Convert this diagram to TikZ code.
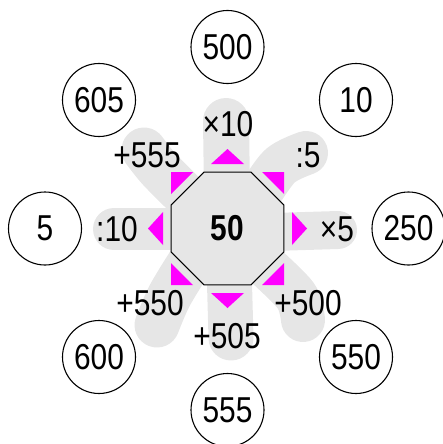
\documentclass[tikz,border=0pt]{standalone}
\usepackage{fontspec}
\setmainfont{Liberation Sans}[FakeStretch=0.83]
\usetikzlibrary{shapes.geometric}
\definecolor{blobgray}{HTML}{E6E6E6}
\definecolor{mag}{HTML}{FF00FF}
\begin{document}
\begin{tikzpicture}[x=1pt,y=-1pt,
  blob/.style={draw=blobgray, line width=#1, line cap=round, line join=round},
  num/.style={circle, draw, line width=1.1pt, minimum size=73pt, inner sep=0pt, font=\fontsize{36}{36}\selectfont},
  op/.style={inner sep=0pt, font=\fontsize{36}{36}\selectfont},
  tri/.style={fill=mag}]
\useasboundingbox (0,0) rectangle (443,444);
% gray blobs
\draw[blob=46pt] (227.5,228.5) -- (226,121);
\draw[blob=44pt] plot[smooth] coordinates {(240,215) (255,200) (280,166) (306,153)};
\draw[blob=38pt] (240,233) -- (338,230);
\draw[blob=44pt] plot[smooth] coordinates {(240,240) (262,262) (296,296) (303,320)};
\draw[blob=45pt] (228,229) -- (231,338);
\draw[blob=45pt] plot[smooth] coordinates {(210,240) (195,255) (170,295) (157,325)};
\draw[blob=42pt] (215,229) -- (114,229);
\draw[blob=45pt] plot[smooth] coordinates {(210,220) (195,205) (160,170) (144,150)};
% centre octagon
\node[regular polygon, regular polygon sides=8, minimum size=122.3pt, draw, fill=blobgray, line width=1pt, inner sep=0pt, font=\fontsize{36}{36}\selectfont\bfseries] (oct) at (227.5,228.5) {50};
% magenta triangles
\foreach \r in {0,90,180,270}{
  \fill[tri, shift={(oct.center)}, rotate=\r] (0,-79.5) -- (16.5,-64.5) -- (-16.5,-64.5) -- cycle;
  \fill[tri, shift={(oct.center)}, rotate=\r] (-56.5,-56.5) -- (-34.5,-56.5) -- (-56.5,-34.5) -- cycle;
}
% operation labels
\node[op] (l1) at (228,124) {×10};
\node[op] (l2) at (308,155) {:5};
\node[op] (l3) at (337,229) {×5};
\node[op] (l4) at (308,303) {+500};
\node[op] (l5) at (227,336) {+505};
\node[op] (l6) at (150,303) {+550};
\node[op] (l7) at (117,229) {:10};
\node[op] (l8) at (147,155) {+555};
% number circles
\node[num] (c1) at (227.5,47) {500};
\node[num] (c2) at (356,100) {10};
\node[num] (c3) at (408.5,228.5) {250};
\node[num] (c4) at (356,357) {550};
\node[num] (c5) at (227.5,410) {555};
\node[num] (c6) at (99,357) {600};
\node[num] (c7) at (45,228.5) {5};
\node[num] (c8) at (99,100) {605};
\end{tikzpicture}
\end{document}
